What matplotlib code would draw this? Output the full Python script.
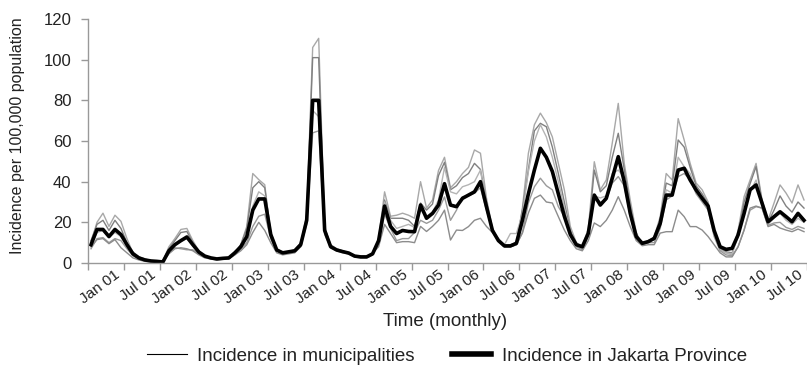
import matplotlib
matplotlib.use("Agg")
import matplotlib.pyplot as plt
import numpy as np

plt.rcParams['font.family'] = ['Liberation Sans', 'DejaVu Sans']

# monthly incidence per 100,000, Jan 2001 - Dec 2010
jakarta = [
    9, 16.5, 16.5, 13, 16.5, 14, 9, 4.5, 2.5, 1.5, 1, 0.8,
    0.5, 6, 9, 11, 12.8, 9, 5.4, 3.4, 2.5, 2, 2.3, 2.5,
    5, 8, 13, 26, 31.5, 31.5, 14, 6.4, 5, 5.5, 6, 9,
    21, 80, 80, 16, 8, 6.4, 5.6, 4.9, 3.4, 3, 3, 4.5,
    11, 28, 18, 14.5, 16, 15.5, 15.4, 28.5, 22, 24.4, 28.5, 39,
    28.5, 27.7, 31.8, 33.4, 35, 40, 27.7, 16, 11, 8.4, 8.4, 9.7,
    21, 34, 45.7, 56.4, 52, 45, 34, 23, 14, 9, 8, 14.6,
    33.4, 28.5, 31.8, 41.7, 52.3, 40, 24.4, 13, 9.7, 10.5, 12.1, 19.5,
    33.4, 33.4, 45.7, 46.6, 40.8, 35.9, 31.8, 28, 16, 8, 6.7, 7.2,
    13.8, 24.4, 36, 38.4, 29.4, 20.3, 22.8, 25.2, 22.8, 20.3, 24.4, 21,
]

muni_1 = [
    10, 20, 24.5, 18, 23.5, 20.5, 12, 5, 2.5, 1.5, 1, 0.8,
    1, 8, 12, 16.5, 17, 11, 6, 3.5, 2.5, 2, 2, 2.5,
    5, 9, 18, 44, 41, 38.5, 14, 6, 4.5, 5, 6, 9,
    24, 106, 110.5, 18, 8, 6, 5, 4.5, 3, 2.5, 2.5, 4,
    12, 35, 23, 23.5, 24.5, 23.5, 22, 40, 27, 31, 45.5, 52,
    37, 40, 44, 47, 55.6, 54, 32, 17, 11, 8, 8, 9,
    27, 54, 68, 73.7, 69, 62, 49, 36, 18, 10, 8, 17,
    49.8, 36, 40.8, 59, 78.5, 49, 31, 15, 9, 10, 13, 22.8,
    44, 40.8, 71, 60.5, 49, 39.3, 36, 30, 16, 7, 5, 4,
    16.2, 32.6, 40.8, 49, 31, 21, 29.5, 38.4, 34.4, 29.5, 38.4, 31,
]
muni_2 = [
    11, 19, 21, 16, 21, 17, 10, 5.5, 3, 2, 1.2, 1,
    1.2, 7, 11, 15, 15.5, 10, 5.5, 3.5, 2.5, 2, 2.3, 2.8,
    5, 9, 17, 37, 40, 37, 15, 7, 5, 5.5, 6.5, 10,
    22, 101, 101, 17, 9, 7, 6, 5, 3.5, 3, 3, 5,
    11, 31, 22, 22, 22, 21, 18, 29.5, 26, 29, 43, 49.5,
    36, 38, 42, 44, 49, 46, 30, 16.5, 11, 8.5, 9, 10,
    26, 46, 65, 68.7, 67, 57, 44, 30, 16, 9, 7.5, 15,
    45.7, 35, 38, 52, 63.8, 46, 28, 14, 9.5, 11, 12.5, 21,
    39.3, 38, 60.5, 57, 47, 38, 34, 29, 15, 7.5, 5.5, 5,
    14, 30, 39, 47.4, 30, 20, 26, 33, 28, 25, 30, 27,
]
muni_3 = [
    8, 15, 16, 12.5, 15, 13, 9, 4, 2, 1.2, 0.8, 0.6,
    0.8, 6, 9, 10.5, 12, 8.5, 5, 3, 2.2, 1.8, 2.1, 2.3,
    4.5, 8, 13, 28, 35, 33, 13, 6, 5, 5.5, 6, 9,
    20, 75, 72, 15, 8, 6.5, 5.5, 5, 3.5, 3.2, 3.2, 4.5,
    10, 30, 21, 17, 18, 19, 17.5, 26, 23, 25, 31, 47,
    35, 34, 37.5, 38.5, 40, 45.7, 28, 15.5, 11, 9, 14.5, 14.5,
    24, 45, 60, 68, 62, 52, 40, 27, 15, 8.5, 7, 14,
    33, 32, 33, 44, 45.7, 42, 26, 13, 10, 10.5, 11.5, 18,
    36, 34.4, 52, 47.4, 44, 36, 32, 28, 14, 6.5, 5, 4.5,
    13, 24, 35, 40.8, 27.7, 19, 22, 24.6, 21, 19, 22, 20,
]
muni_4 = [
    7, 12, 12.5, 10, 12, 11, 7, 3.5, 2, 1, 0.7, 0.5,
    0.6, 5, 7.5, 7, 6.5, 6.5, 4.5, 3, 2.2, 1.6, 2, 2.2,
    4, 7, 10, 18, 23, 24, 12, 6, 4.5, 5, 5.5, 8,
    19, 64, 65, 14, 7.5, 6, 5.5, 4.5, 3.5, 3, 3, 4.5,
    9, 24, 17, 11, 12, 12, 15, 21, 19.5, 21, 26, 32.5,
    21, 26, 32.6, 33, 34.4, 37, 26, 16, 12, 9, 8, 9,
    15, 29.5, 37.5, 41.7, 38, 36, 27.7, 22.8, 14, 8, 6.5, 13,
    32.6, 30, 31, 39.3, 42.5, 38, 23, 12, 9, 10, 10, 17,
    31, 33, 42.5, 44, 41, 34, 30, 26, 13, 6, 4, 3.5,
    8, 16.2, 26, 27.7, 27, 18.5, 19.7, 20, 17.5, 16.5, 18, 17,
]
muni_5 = [
    8, 11.5, 12, 9.5, 11.5, 7.5, 5, 2.5, 1.5, 0.8, 0.5, 0.4,
    0.5, 4.5, 7, 7.5, 7, 6, 4, 2.5, 2, 1.5, 1.8, 2,
    4, 6, 9, 15, 20, 16, 10, 5, 4, 4.5, 5, 8,
    21, 80, 79, 16, 8, 6.5, 5.8, 5, 3.6, 3, 3, 4.8,
    8, 19, 14.5, 10, 10.5, 10.5, 10, 18, 15.5, 18, 21, 26,
    11.3, 16.2, 16, 17.9, 21, 22, 18, 15, 11, 8, 8, 9,
    14.7, 24.6, 31.8, 33.4, 30, 29.5, 22.8, 16.2, 11, 7, 6, 11,
    19.7, 17.9, 21, 26, 32.6, 26, 17.9, 11, 8.5, 9, 9, 14.7,
    15.4, 15.4, 26, 22.8, 17.9, 17.9, 16.2, 13, 9, 5, 3, 3,
    8, 16.2, 27, 28, 27, 17.9, 19, 17.2, 16.2, 15.4, 16.7, 15.4,
]
municipalities = [muni_1, muni_2, muni_3, muni_4, muni_5]
muni_colors = ['#a8a8a8', '#808080', '#b4b4b4', '#9a9a9a', '#8c8c8c']

tick_labels = []
for yr in range(1, 11):
    tick_labels += ["Jan %02d" % yr, "Jul %02d" % yr]

months = np.arange(len(jakarta))

fig = plt.figure(figsize=(8.07, 3.71), dpi=100)
ax = fig.add_axes([88 / 807, 108 / 371, 719 / 807, 244 / 371])

for vals, col in zip(municipalities, muni_colors):
    ax.plot(months, vals, color=col, lw=1.0)
ax.plot(months, jakarta, color='black', lw=2.6)

ax.set_xlim(-0.5, 119.5)
ax.set_ylim(0, 120)
ax.set_yticks(range(0, 121, 20))

# tick marks between the 6-month groups, labels at the end of each group
ax.set_xticks(np.arange(-0.5, 120, 6), minor=True)
ax.set_xticks(np.arange(3.9, 120, 6))
ax.set_xticklabels(tick_labels, rotation=37, ha='right', va='top',
                   rotation_mode='anchor', fontsize=11, color='#222222')
ax.tick_params(axis='x', which='major', length=0, pad=3)
ax.tick_params(axis='x', which='minor', length=5, color='#999999', width=1)
ax.tick_params(axis='y', length=5, color='#999999', width=1, pad=7,
               labelsize=12, labelcolor='#222222')

for side in ['top', 'right']:
    ax.spines[side].set_visible(False)
for side in ['left', 'bottom']:
    ax.spines[side].set_color('#999999')
    ax.spines[side].set_linewidth(1)

fig.text(445 / 807, 1 - 322 / 371, "Time (monthly)", ha='center', va='center',
         fontsize=13.5, color='#222222')
fig.text(18 / 807, 1 - 136 / 371, "Incidence per 100,000 population",
         rotation=90, ha='center', va='center', fontsize=11.5, color='#222222')

h1, = ax.plot([], [], color='black', lw=0.8)
h2, = ax.plot([], [], color='black', lw=4)
fig.legend([h1, h2], ["Incidence in municipalities", "Incidence in Jakarta Province"],
           loc='center', bbox_to_anchor=(447 / 807, 1 - 356 / 371), ncol=2,
           frameon=False, fontsize=13.5, handlelength=2.1, columnspacing=2.0,
           handletextpad=0.55, labelcolor='#222222')

fig.savefig("out.png", dpi=100)
